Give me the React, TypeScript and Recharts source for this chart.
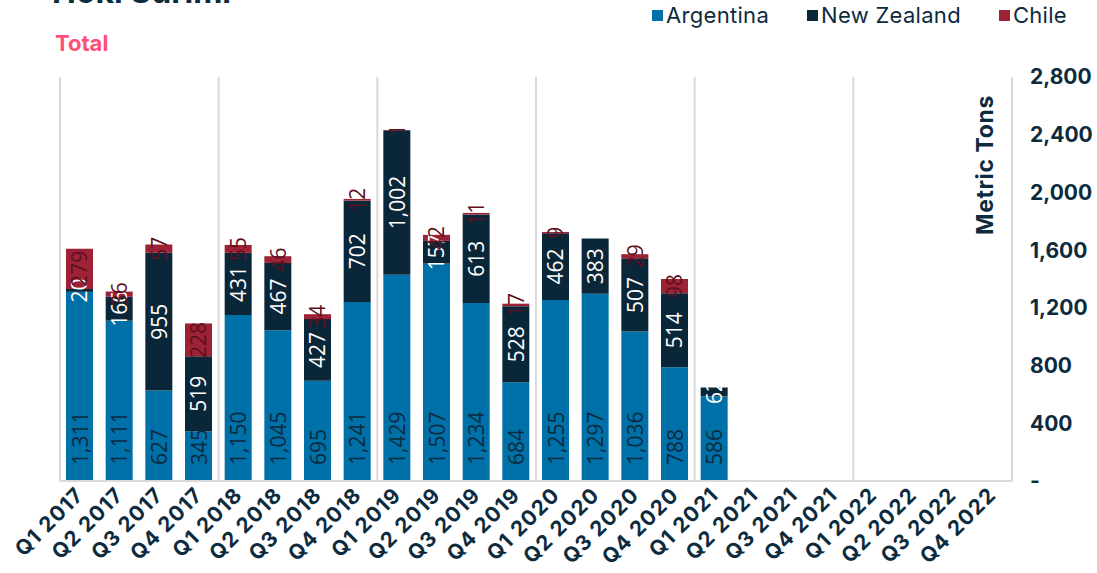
import { BarChart, Bar, XAxis, YAxis, CartesianGrid, LabelList } from 'recharts';

const quarters = [
  'Q1 2017', 'Q2 2017', 'Q3 2017', 'Q4 2017',
  'Q1 2018', 'Q2 2018', 'Q3 2018', 'Q4 2018',
  'Q1 2019', 'Q2 2019', 'Q3 2019', 'Q4 2019',
  'Q1 2020', 'Q2 2020', 'Q3 2020', 'Q4 2020',
  'Q1 2021', 'Q2 2021', 'Q3 2021', 'Q4 2021',
  'Q1 2022', 'Q2 2022', 'Q3 2022', 'Q4 2022',
];

const argentina = [1311, 1111, 627, 345, 1150, 1045, 695, 1241, 1429, 1507, 1234, 684, 1255, 1297, 1036, 788, 586, null, null, null, null, null, null, null];
const newZealand = [20, 166, 955, 519, 431, 467, 427, 702, 1002, 157, 613, 528, 462, 383, 507, 514, 62, null, null, null, null, null, null, null];
const chile = [279, 36, 57, 228, 55, 46, 34, 12, 1, 42, 11, 17, 9, null, 29, 98, null, null, null, null, null, null, null, null];

const yTicks = [0, 400, 800, 1200, 1600, 2000, 2400, 2800];

const series = [
  { key: 'Argentina', color: '#0070A8' },
  { key: 'New Zealand', color: '#0A2739' },
  { key: 'Chile', color: '#9E2236' },
];

const data = quarters.map((q, i) => ({
  name: q,
  Argentina: argentina[i],
  'New Zealand': newZealand[i],
  Chile: chile[i],
}));

const navy = '#0D2B3E';
const axisFont = 'Inter, "Noto Sans", sans-serif';
const labelFont = '"Open Sans", "Noto Sans", sans-serif';

const fmt = (v: number) => v.toLocaleString('en-US');

// labels rotated -90, drawn from the bar geometry recharts hands over
const baseLabel = (props: any) => {
  const { x, y, width, height, value } = props;
  if (value == null) return null;
  const cx = x + width / 2;
  const by = y + height - 16;
  return (
    <text x={cx} y={by} transform={`rotate(-90 ${cx} ${by})`} textAnchor="start" dominantBaseline="central"
      fill={navy} fontSize={21} fontFamily={labelFont}>
      {fmt(value)}
    </text>
  );
};

const centerLabel = (color: string) => (props: any) => {
  const { x, y, width, height, value } = props;
  if (value == null || value === 0) return null;
  const cx = x + width / 2;
  const cy = y + height / 2;
  return (
    <text x={cx} y={cy} transform={`rotate(-90 ${cx} ${cy})`} textAnchor="middle" dominantBaseline="central"
      fill={color} fontSize={21} fontFamily={labelFont}>
      {fmt(value)}
    </text>
  );
};

const XTick = ({ x, y, payload }: any) => (
  <g transform={`translate(${x},${y + 2})`}>
    <text transform="rotate(-45)" textAnchor="end" dy="0.35em" fill={navy} fontSize={21}
      fontWeight={700} fontFamily={axisFont} letterSpacing={1.1}>
      {payload.value}
    </text>
  </g>
);

export default function App() {
  return (
    <div style={{ position: 'absolute', left: 0, top: 0, width: 1097, height: 573, overflow: 'hidden', background: '#fff' }}>
      <div style={{ position: 'absolute', left: 52, top: -24, fontFamily: axisFont, fontWeight: 700, fontSize: 32, color: navy, lineHeight: '32px' }}>
        Hoki Surimi
      </div>
      <div style={{ position: 'absolute', left: 55, top: 30, fontFamily: axisFont, fontWeight: 700, fontSize: 22, color: '#FF4F74' }}>
        Total
      </div>
      <div style={{
        position: 'absolute', left: 985, top: 165, transform: 'translate(-50%, -50%) rotate(-90deg)',
        fontFamily: axisFont, fontWeight: 700, fontSize: 23, letterSpacing: 0.6, color: navy, whiteSpace: 'nowrap',
      }}>
        Metric Tons
      </div>
      <div style={{ position: 'absolute', right: 30, top: 2, display: 'flex', fontFamily: axisFont, fontSize: 22, letterSpacing: 0.3, color: navy }}>
        {series.map((s, i) => (
          <div key={s.key} style={{ display: 'flex', alignItems: 'center', marginLeft: i === 0 ? 0 : 38 }}>
            <span style={{ width: 11, height: 11, background: s.color, marginRight: 3, display: 'inline-block' }} />
            {s.key}
          </div>
        ))}
      </div>
      <BarChart width={1097} height={573} data={data} margin={{ top: 77, right: 0, bottom: 0, left: 60 }} barSize={27}>
        <CartesianGrid horizontal={false} stroke="#D9D9D9" strokeWidth={2}
          verticalCoordinatesGenerator={({ offset }: any) =>
            [0, 1, 2, 3, 4, 5, 6].map((i) => offset.left + (i * offset.width) / 6)} />
        <XAxis dataKey="name" interval={0} height={92} tickLine={false} axisLine={{ stroke: '#D9D9D9', strokeWidth: 2 }}
          tick={<XTick />} />
        <YAxis orientation="right" width={85} domain={[0, 2800]} ticks={yTicks} axisLine={false} tickLine={false}
          tickMargin={12} tickFormatter={(v: number) => (v === 0 ? '-' : fmt(v))}
          tick={{ fill: navy, fontSize: 21, fontWeight: 700, fontFamily: axisFont }} />
        <Bar dataKey="Argentina" stackId="a" fill="#0070A8" isAnimationActive={false}>
          <LabelList dataKey="Argentina" content={baseLabel} />
        </Bar>
        <Bar dataKey="New Zealand" stackId="a" fill="#0A2739" isAnimationActive={false}>
          <LabelList dataKey="New Zealand" content={centerLabel('#FFFFFF')} />
        </Bar>
        <Bar dataKey="Chile" stackId="a" fill="#9E2236" isAnimationActive={false}>
          <LabelList dataKey="Chile" content={centerLabel('#5E1020')} />
        </Bar>
      </BarChart>
    </div>
  );
}
